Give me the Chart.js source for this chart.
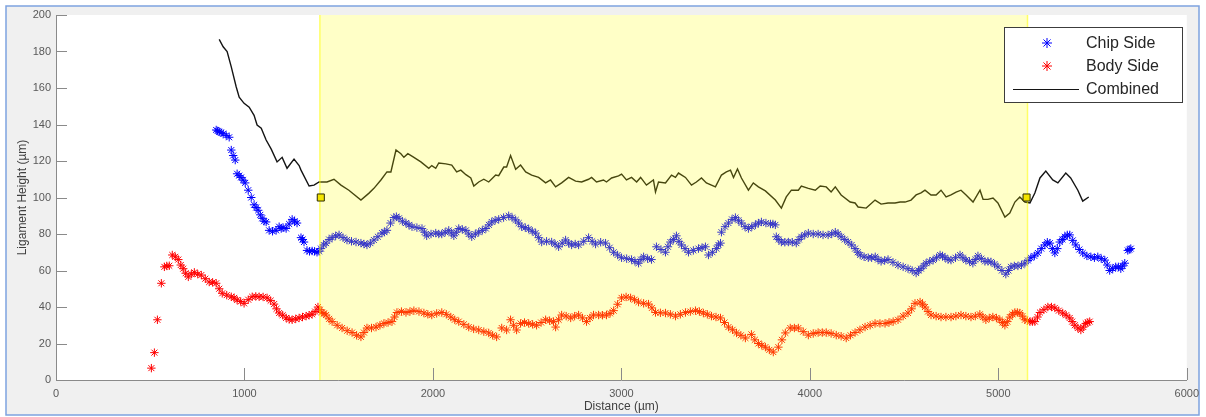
<!DOCTYPE html>
<html>
<head>
<meta charset="utf-8">
<script src="https://cdn.jsdelivr.net/npm/chart.js@4/dist/chart.umd.min.js"></script>
<style>
  html, body { margin: 0; padding: 0; background: #ffffff; }
  #wrap { width: 1206px; height: 417px; }
</style>
</head>
<body>
<div id="wrap"><canvas id="c" width="1206" height="417"></canvas></div>
<script>
// Ligament height measured along the cut (distance in µm)
const chipX = [850, 858, 866, 876, 887, 903, 919, 930, 940, 951, 961, 972, 982, 993, 1004, 1020, 1036, 1051, 1062, 1073, 1084, 1094, 1104, 1115, 1131, 1149, 1168, 1184, 1195, 1205, 1221, 1237, 1253, 1266, 1279, 1300, 1308, 1316, 1332, 1345, 1359, 1372, 1385, 1396, 1406, 1420, 1433, 1449, 1465, 1484, 1502, 1523, 1544, 1568, 1592, 1618, 1634, 1650, 1668, 1687, 1708, 1730, 1742, 1756, 1775, 1793, 1806, 1820, 1838, 1857, 1873, 1889, 1915, 1942, 1955, 1967, 1990, 2015, 2031, 2047, 2065, 2084, 2098, 2111, 2124, 2137, 2156, 2175, 2190, 2206, 2225, 2243, 2262, 2281, 2297, 2312, 2330, 2349, 2375, 2402, 2420, 2439, 2455, 2471, 2490, 2508, 2527, 2545, 2561, 2577, 2603, 2630, 2648, 2667, 2686, 2704, 2720, 2736, 2755, 2773, 2800, 2826, 2845, 2863, 2890, 2916, 2938, 2959, 2980, 3001, 3028, 3054, 3072, 3091, 3104, 3118, 3139, 3160, 3186, 3210, 3234, 3247, 3260, 3276, 3292, 3305, 3319, 3338, 3356, 3382, 3409, 3428, 3446, 3462, 3483, 3504, 3515, 3526, 3531, 3550, 3568, 3587, 3605, 3621, 3637, 3656, 3674, 3692, 3711, 3727, 3743, 3767, 3791, 3804, 3817, 3822, 3835, 3849, 3867, 3886, 3907, 3928, 3942, 3955, 3973, 3992, 4018, 4044, 4070, 4097, 4116, 4135, 4150, 4166, 4185, 4203, 4222, 4240, 4254, 4267, 4288, 4310, 4328, 4347, 4362, 4378, 4397, 4415, 4441, 4468, 4495, 4521, 4543, 4564, 4577, 4590, 4604, 4617, 4636, 4654, 4672, 4691, 4704, 4717, 4733, 4749, 4773, 4797, 4812, 4828, 4847, 4865, 4878, 4892, 4910, 4929, 4945, 4961, 4980, 4998, 5019, 5040, 5054, 5067, 5085, 5104, 5123, 5141, 5157, 5173, 5191, 5210, 5228, 5247, 5260, 5274, 5287, 5300, 5313, 5326, 5340, 5353, 5366, 5379, 5395, 5411, 5430, 5448, 5470, 5491, 5510, 5528, 5546, 5565, 5578, 5591, 5607, 5623, 5637, 5650, 5660, 5671, 5687, 5695, 5703];
const chipY = [137, 136.5, 136, 135.5, 135, 134, 133, 126, 123, 120.5, 113, 112, 111, 109.5, 108, 104, 100, 96, 94.5, 93, 90.5, 88.6, 87, 86.6, 82, 81.5, 82, 84, 83, 83.5, 83, 85.5, 88, 87, 86, 78, 77, 75.6, 71, 70.5, 70.7, 70.5, 70, 70.5, 72, 74, 75, 77, 78, 79, 79.5, 78, 76.7, 76, 75.6, 75, 74.5, 74, 75, 76.7, 78.5, 80.5, 81, 82, 86, 89, 89.5, 88.6, 87, 86, 85, 84, 83.5, 83, 81, 79, 80, 80.5, 80, 80, 81, 82, 80.5, 79, 81, 83, 82.5, 82, 80, 78.5, 80, 81, 82, 83, 85, 86.6, 87.5, 88, 89, 90, 89, 87.7, 86, 84, 83.5, 82.7, 81.5, 80.5, 78, 75.6, 76, 75.6, 74.5, 73, 75, 76.7, 75, 74, 74.5, 74, 76, 78, 76, 74.5, 75.5, 75, 72.5, 70, 68.5, 67, 66.5, 66, 65, 64, 66, 67.5, 66.5, 66, 73, 71.5, 70, 73, 75.6, 77, 79, 76, 74, 72, 70, 71, 72, 72.5, 73, 68.5, 70, 72, 74, 75, 81, 84, 86, 88, 89, 87.5, 86, 84, 83, 84, 85, 86, 86.6, 86, 85.5, 85.5, 85, 78.5, 77, 75.6, 75.5, 75.6, 75.5, 75, 77, 78.5, 79.5, 80.5, 80, 80, 79.5, 79.5, 80, 81, 80, 78.5, 77, 75.6, 74, 72, 70, 68.5, 67.5, 67, 67, 67.5, 66, 65, 65.5, 66, 64.5, 63, 62, 61, 60, 58.6, 60, 61, 62.5, 64, 65, 65.7, 67, 68.5, 68, 67, 66, 65.7, 67, 68.5, 67, 65.7, 65, 64, 66, 68, 66.5, 65, 65, 64.7, 63.5, 62, 60, 58, 60, 62, 62.5, 62.5, 63, 64, 65.5, 67, 68, 69.6, 72, 74, 75.5, 75, 72, 69.6, 72, 75.6, 77, 78.5, 79.5, 79.5, 76.5, 74, 71.5, 69.6, 68, 67.5, 67, 67.5, 66.5, 65.7, 63, 60, 61, 62, 62, 61, 62.5, 64, 71, 71.5, 72];

const bodyX = [506, 522, 538, 559, 575, 588, 601, 617, 633, 649, 662, 675, 688, 702, 718, 734, 752, 771, 792, 813, 831, 850, 866, 882, 906, 930, 945, 961, 980, 998, 1020, 1041, 1060, 1078, 1099, 1120, 1139, 1157, 1170, 1184, 1203, 1221, 1237, 1253, 1272, 1290, 1308, 1327, 1343, 1359, 1375, 1390, 1400, 1411, 1422, 1433, 1449, 1465, 1492, 1518, 1545, 1571, 1595, 1618, 1634, 1650, 1674, 1698, 1719, 1740, 1762, 1783, 1796, 1809, 1833, 1857, 1878, 1899, 1926, 1952, 1973, 1994, 2020, 2047, 2071, 2095, 2116, 2137, 2164, 2190, 2216, 2243, 2270, 2296, 2317, 2338, 2365, 2391, 2412, 2428, 2444, 2465, 2486, 2508, 2529, 2550, 2574, 2598, 2619, 2640, 2651, 2667, 2683, 2707, 2731, 2752, 2773, 2794, 2815, 2833, 2852, 2879, 2900, 2921, 2940, 2959, 2980, 3001, 3025, 3049, 3070, 3091, 3118, 3144, 3162, 3181, 3207, 3234, 3260, 3287, 3313, 3340, 3366, 3393, 3414, 3435, 3456, 3478, 3502, 3526, 3547, 3568, 3590, 3611, 3634, 3658, 3690, 3708, 3727, 3745, 3764, 3785, 3806, 3833, 3852, 3870, 3896, 3918, 3939, 3965, 3992, 4018, 4044, 4066, 4087, 4113, 4140, 4166, 4193, 4216, 4240, 4266, 4293, 4320, 4346, 4372, 4399, 4420, 4442, 4468, 4495, 4521, 4540, 4558, 4585, 4598, 4611, 4627, 4643, 4670, 4696, 4722, 4749, 4775, 4802, 4828, 4855, 4878, 4902, 4918, 4934, 4952, 4971, 4990, 5008, 5022, 5035, 5048, 5061, 5075, 5088, 5101, 5114, 5128, 5141, 5155, 5168, 5181, 5194, 5208, 5221, 5242, 5263, 5282, 5300, 5321, 5342, 5360, 5379, 5392, 5406, 5422, 5438, 5451, 5464, 5475, 5485];
const bodyY = [6.5, 15, 33, 53, 62, 62.5, 62.6, 68.5, 67.5, 66, 63, 61, 58.5, 56.5, 58, 59, 58, 57.5, 55.5, 53.7, 53.5, 53, 50, 47.5, 46.5, 45.6, 45, 43.8, 43, 42, 44, 45.6, 45.8, 45.6, 45.5, 45, 43.5, 41.6, 39, 36.7, 35.5, 34, 33.2, 33, 33.5, 34, 34.5, 35, 35.5, 36, 37.5, 40, 38.5, 37, 36.5, 35.6, 33.5, 32, 30, 28.5, 27, 26, 24.5, 23.6, 26, 28.5, 28.5, 29, 30, 31, 31.5, 32, 34.5, 37, 37.5, 37, 37.5, 38, 37.5, 36.7, 36, 35.6, 36.5, 37, 36, 34.5, 33, 32, 30.5, 29, 28, 27.4, 26.5, 25.8, 24.5, 23.6, 28.5, 27.4, 33, 30, 27.4, 31, 31.5, 31, 30.5, 30, 31.5, 33, 32.5, 32, 29, 33, 35.6, 35, 34, 35, 35.6, 34, 32, 34, 35.6, 35.6, 35.5, 35.6, 36.5, 38, 41.5, 45, 45.5, 45, 44, 42.7, 42, 41.6, 39.5, 37, 36.8, 36.7, 36, 35, 36, 37, 37.5, 38, 37.5, 36.7, 36, 35, 34.5, 34, 31.5, 29, 27.5, 25.8, 24.5, 23, 25, 22, 20, 19, 18, 16.5, 15.3, 18, 22, 25.8, 28.5, 28.5, 28.5, 26.5, 24.6, 25.5, 26, 26, 26, 25.5, 24.6, 24, 23, 24.5, 26, 27.5, 29, 30, 31, 31, 31, 31.5, 32, 33, 35, 36.7, 39, 42, 42.7, 41.5, 40, 37.5, 35.6, 35, 34.5, 34.5, 34.5, 35, 35.6, 35, 34.5, 35, 36, 34.5, 33, 34, 34.5, 34, 33, 31.5, 30, 32, 34.5, 36, 37, 37, 36.7, 35, 33, 32.5, 32, 32, 32, 34.5, 37, 38.5, 40, 40, 39.5, 38, 36.7, 35.5, 34, 32, 30, 28.5, 27.4, 29, 31, 31.5, 32];

const combinedX = [866, 887, 908, 930, 956, 972, 998, 1025, 1051, 1067, 1089, 1115, 1142, 1173, 1200, 1226, 1263, 1290, 1300, 1343, 1369, 1396, 1438, 1475, 1512, 1554, 1618, 1661, 1687, 1724, 1756, 1777, 1804, 1830, 1846, 1867, 1899, 1936, 1978, 1994, 2015, 2031, 2069, 2100, 2126, 2148, 2175, 2201, 2217, 2243, 2270, 2296, 2333, 2349, 2376, 2391, 2412, 2439, 2465, 2492, 2524, 2561, 2598, 2624, 2651, 2683, 2720, 2757, 2789, 2826, 2842, 2868, 2905, 2921, 2948, 2985, 3001, 3027, 3054, 3081, 3102, 3133, 3170, 3181, 3197, 3234, 3266, 3287, 3303, 3340, 3372, 3398, 3425, 3451, 3499, 3531, 3557, 3579, 3595, 3616, 3637, 3674, 3700, 3727, 3764, 3817, 3849, 3875, 3902, 3939, 3955, 3992, 4029, 4055, 4087, 4113, 4135, 4166, 4214, 4240, 4256, 4299, 4346, 4378, 4415, 4452, 4479, 4505, 4537, 4564, 4590, 4611, 4643, 4670, 4696, 4723, 4749, 4776, 4802, 4829, 4866, 4903, 4919, 4945, 4972, 4998, 5035, 5061, 5088, 5114, 5141, 5168, 5194, 5221, 5252, 5289, 5316, 5358, 5384, 5422, 5448, 5480];
const combinedY = [186.6, 182.6, 180, 171.6, 160.7, 155, 151.6, 149.5, 145, 139.7, 138, 131.5, 126.5, 119.5, 122, 116, 121, 117.5, 115, 106.3, 106.8, 108.5, 108.5, 110, 106.8, 104, 98.6, 102.4, 105, 109.6, 114, 114, 126, 124, 122, 124, 122, 119.5, 116, 117.5, 116, 118.9, 118.4, 117.8, 114, 115, 112.5, 110.7, 106.3, 108.5, 110, 108.5, 112.3, 112, 116.7, 116.7, 123, 115.5, 117.8, 114, 112.3, 111, 108, 109.6, 105.8, 108, 111, 109, 108.5, 110, 111, 108.5, 109.6, 108.5, 110.7, 111.8, 112.8, 109.6, 111, 108.5, 111, 106.8, 109.6, 103, 108.5, 108, 112.3, 111, 113.4, 111, 106.8, 108.5, 110.7, 108, 105.8, 112.3, 114, 115, 111, 115.6, 110.7, 104, 108, 105.8, 103.6, 98.6, 94.2, 100.3, 104, 104, 106.3, 105, 104, 106.3, 105.8, 103, 105.8, 101.4, 97.5, 97, 94.8, 94.2, 98.6, 96.4, 97, 97, 97.5, 97.5, 98.6, 101.4, 102.5, 104, 101.4, 101.4, 104, 100.3, 101.4, 103, 104, 101.4, 97.5, 104, 99, 99, 99.7, 97, 89.3, 91.5, 97.5, 100.3, 97.5, 97, 102.5, 110.7, 114.5, 109.6, 108, 113.4, 110.7, 104, 98, 100.3];

// Selected window and its two end markers
const regionX = [1400, 5155];
const markerX = [1405, 5150];
const markerY = [100, 100];

const seriesNames = ['Chip Side', 'Body Side', 'Combined'];
const xTitle = 'Distance (µm)';
const yTitle = 'Ligament Height (µm)';

const toPoints = (xs, ys) => xs.map((x, i) => ({ x: x, y: ys[i] }));

const AXIS_GREY = '#8a8a8a';
const TEXT_GREY = '#595959';

// Frame, grey panel and white plotting area behind everything
const framePlugin = {
  id: 'frame',
  beforeDraw(chart) {
    const { ctx, chartArea: a } = chart;
    ctx.save();
    ctx.fillStyle = '#ffffff';
    ctx.fillRect(0, 0, chart.width, chart.height);
    ctx.fillStyle = '#f0f0f0';
    ctx.fillRect(6, 6, 1193, 409);
    ctx.strokeStyle = '#7ea3df';
    ctx.lineWidth = 1.5;
    ctx.strokeRect(6, 6, 1193, 409);
    ctx.fillStyle = '#ffffff';
    ctx.fillRect(a.left, a.top, a.right - a.left, a.bottom - a.top);
    ctx.restore();
  }
};

// Inward tick marks on both axes
const innerTicksPlugin = {
  id: 'innerTicks',
  afterDraw(chart) {
    const { ctx, scales } = chart;
    const xs = scales.x, ys = scales.y;
    ctx.save();
    ctx.strokeStyle = AXIS_GREY;
    ctx.lineWidth = 1;
    ctx.beginPath();
    xs.ticks.forEach(t => {
      const px = Math.round(xs.getPixelForValue(t.value)) + 0.5;
      ctx.moveTo(px, ys.bottom);
      ctx.lineTo(px, ys.bottom - 12);
    });
    ys.ticks.forEach(t => {
      const py = Math.round(ys.getPixelForValue(t.value)) + 0.5;
      ctx.moveTo(xs.left, py);
      ctx.lineTo(xs.left + 11, py);
    });
    ctx.stroke();
    ctx.restore();
  }
};

// Translucent highlight laid over the series inside the selected window
const regionPlugin = {
  id: 'region',
  afterDatasetDraw(chart, args) {
    if (chart.data.datasets[args.index].label !== seriesNames[0]) return;
    const { ctx, chartArea: a, scales } = chart;
    const x0 = scales.x.getPixelForValue(regionX[0]);
    const x1 = scales.x.getPixelForValue(regionX[1]);
    ctx.save();
    ctx.fillStyle = 'rgba(255, 255, 0, 0.22)';
    ctx.fillRect(x0, a.top, x1 - x0, a.bottom - a.top);
    ctx.strokeStyle = 'rgba(255, 255, 0, 0.55)';
    ctx.lineWidth = 1.5;
    ctx.beginPath();
    ctx.moveTo(x0, a.top); ctx.lineTo(x0, a.bottom);
    ctx.moveTo(x1, a.top); ctx.lineTo(x1, a.bottom);
    ctx.stroke();
    ctx.restore();
  }
};

// Boxed legend in the upper right corner
const legendPlugin = {
  id: 'boxLegend',
  afterDraw(chart) {
    const { ctx } = chart;
    const bx = 1004, by = 27, bw = 178, bh = 75;
    ctx.save();
    ctx.fillStyle = '#ffffff';
    ctx.fillRect(bx, by, bw, bh);
    ctx.strokeStyle = '#3c3c3c';
    ctx.lineWidth = 1;
    ctx.strokeRect(bx + 0.5, by + 0.5, bw, bh);
    const rows = [43, 66, 89];
    chart.data.datasets.forEach(ds => {
      const row = seriesNames.indexOf(ds.label);
      if (row < 0) return;
      const y = rows[row];
      if (ds.showLine) {
        ctx.strokeStyle = ds.borderColor;
        ctx.lineWidth = 1.2;
        ctx.beginPath();
        ctx.moveTo(1013, y + 0.5);
        ctx.lineTo(1079, y + 0.5);
        ctx.stroke();
      } else {
        ctx.strokeStyle = ds.borderColor;
        ctx.fillStyle = ds.borderColor;
        Chart.helpers.drawPoint(ctx, { pointStyle: 'star', radius: 5, rotation: 0, borderWidth: 1 }, 1047, y);
      }
      ctx.fillStyle = '#262626';
      ctx.font = '16px "Liberation Sans", Arial, sans-serif';
      ctx.textBaseline = 'middle';
      ctx.textAlign = 'left';
      ctx.fillText(ds.label, 1086, y + 1);
    });
    ctx.restore();
  }
};

const tickFont = { family: '"Liberation Sans", Arial, sans-serif', size: 11 };
const titleFont = { family: '"Liberation Sans", Arial, sans-serif', size: 12 };

new Chart(document.getElementById('c'), {
  type: 'scatter',
  data: {
    datasets: [
      {
        label: 'markers',
        data: toPoints(markerX, markerY),
        pointStyle: 'rect',
        pointRadius: 5,
        borderWidth: 1,
        borderColor: '#2b2b00',
        backgroundColor: '#f4e400',
        order: 0
      },
      {
        label: seriesNames[0],
        data: toPoints(chipX, chipY),
        pointStyle: 'star',
        pointRadius: 4.2,
        borderWidth: 1,
        borderColor: '#0000ff',
        backgroundColor: '#0000ff',
        order: 1
      },
      {
        label: seriesNames[1],
        data: toPoints(bodyX, bodyY),
        pointStyle: 'star',
        pointRadius: 4.2,
        borderWidth: 1,
        borderColor: '#ff0000',
        backgroundColor: '#ff0000',
        order: 2
      },
      {
        label: seriesNames[2],
        data: toPoints(combinedX, combinedY),
        showLine: true,
        pointRadius: 0,
        borderWidth: 1.4,
        borderColor: '#141414',
        backgroundColor: '#141414',
        tension: 0,
        order: 3
      }
    ]
  },
  options: {
    responsive: false,
    animation: false,
    events: [],
    layout: { padding: { left: 0, top: 15, right: 17, bottom: 0 } },
    plugins: {
      legend: { display: false },
      tooltip: { enabled: false }
    },
    scales: {
      x: {
        type: 'linear',
        min: 0,
        max: 6000,
        afterFit(scale) { scale.height = 37; },
        ticks: { stepSize: 1000, color: TEXT_GREY, font: tickFont, padding: 7, maxRotation: 0, format: { useGrouping: false } },
        grid: { display: false, drawTicks: false },
        border: { display: true, color: AXIS_GREY, width: 1 },
        title: { display: true, text: xTitle, color: '#404040', font: titleFont, padding: { top: 0, bottom: 3 } }
      },
      y: {
        type: 'linear',
        min: 0,
        max: 200,
        afterFit(scale) { scale.width = 56; },
        ticks: { stepSize: 20, color: TEXT_GREY, font: tickFont, padding: 5 },
        grid: { display: false, drawTicks: false },
        border: { display: true, color: AXIS_GREY, width: 1 },
        title: { display: true, text: yTitle, color: '#404040', font: titleFont, padding: { top: 15, bottom: 0 } }
      }
    }
  },
  plugins: [framePlugin, regionPlugin, innerTicksPlugin, legendPlugin]
});
</script>
</body>
</html>
